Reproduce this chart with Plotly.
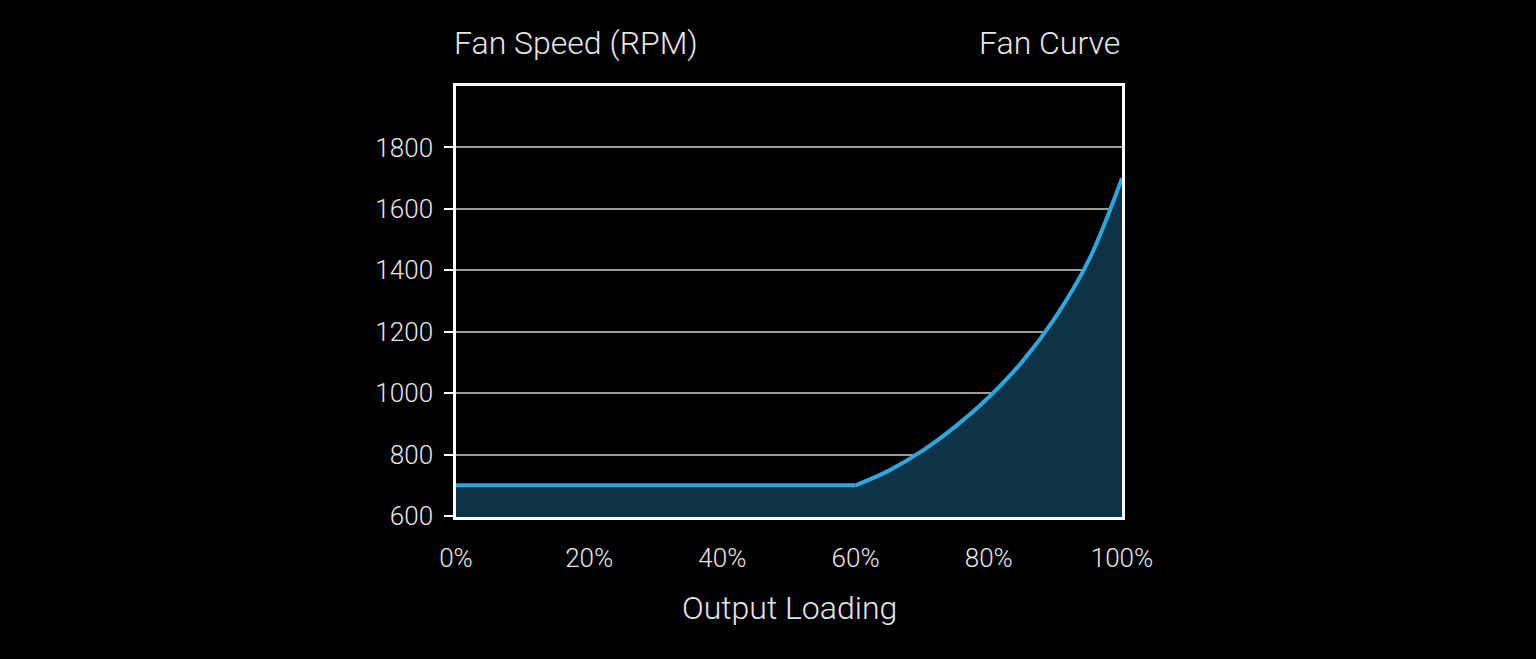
import plotly.graph_objects as go

# fan curve
load_flat = [0, 60]
rpm_flat = [700, 700]

load_ramp = [60, 65, 70, 75, 80, 85, 90, 95, 100]
rpm_ramp = [700, 748, 812, 892, 987, 1102, 1247, 1432, 1700]

x_ticks = [0, 20, 40, 60, 80, 100]
x_labels = ['0%', '20%', '40%', '60%', '80%', '100%']
y_ticks = [600, 800, 1000, 1200, 1400, 1600, 1800]

line_col = '#2aa8e0'
fill_col = '#0e3347'
text_col = '#e6e6e6'
font = dict(family='Roboto', size=26, color=text_col, weight=300)

fig = go.Figure()
# area under the curve as one polygon, lines drawn on top
fig.add_trace(go.Scatter(x=load_flat + load_ramp[1:], y=rpm_flat + rpm_ramp[1:], mode='lines',
                         fill='tozeroy', fillcolor=fill_col, line=dict(width=0)))
fig.add_trace(go.Scatter(x=load_flat, y=rpm_flat, mode='lines', line=dict(color=line_col, width=4)))
fig.add_trace(go.Scatter(x=load_ramp, y=rpm_ramp, mode='lines',
                         line=dict(color=line_col, width=4, shape='spline', smoothing=1)))

fig.update_layout(
    width=1536, height=659,
    margin=dict(l=456, r=414, t=86, b=142),
    paper_bgcolor='black', plot_bgcolor='black',
    showlegend=False, font=font,
    annotations=[
        dict(text='Fan Speed (RPM)', x=-0.006, y=1.0, xref='paper', yref='paper',
             xanchor='left', yanchor='bottom', yshift=22, showarrow=False, font=dict(size=32)),
        dict(text='Fan Curve', x=1.0, y=1.0, xref='paper', yref='paper',
             xanchor='right', yanchor='bottom', yshift=22, showarrow=False, font=dict(size=32)),
        dict(text='Output Loading', x=0.5, y=0, xref='paper', yref='paper',
             xanchor='center', yanchor='top', yshift=-70, showarrow=False, font=dict(size=32)),
    ],
)
fig.update_xaxes(range=[0, 100], tickvals=x_ticks, ticktext=x_labels, showgrid=False,
                 zeroline=False, showline=True, mirror=True, linecolor='white', linewidth=2.5,
                 ticks='', ticklabelstandoff=16)
fig.update_yaxes(range=[597, 2000], tickvals=y_ticks, showgrid=True, gridcolor='#9c9c9c', gridwidth=2,
                 zeroline=False, showline=True, mirror=True, linecolor='white', linewidth=2.5,
                 ticks='outside', ticklen=9, tickwidth=2, tickcolor='white', ticklabelstandoff=6)

# page margin off so the figure sits flush in the window
fig.write_html("out.html", config={'displayModeBar': False},
               post_script="document.body.style.margin='0';document.body.style.background='black';")
